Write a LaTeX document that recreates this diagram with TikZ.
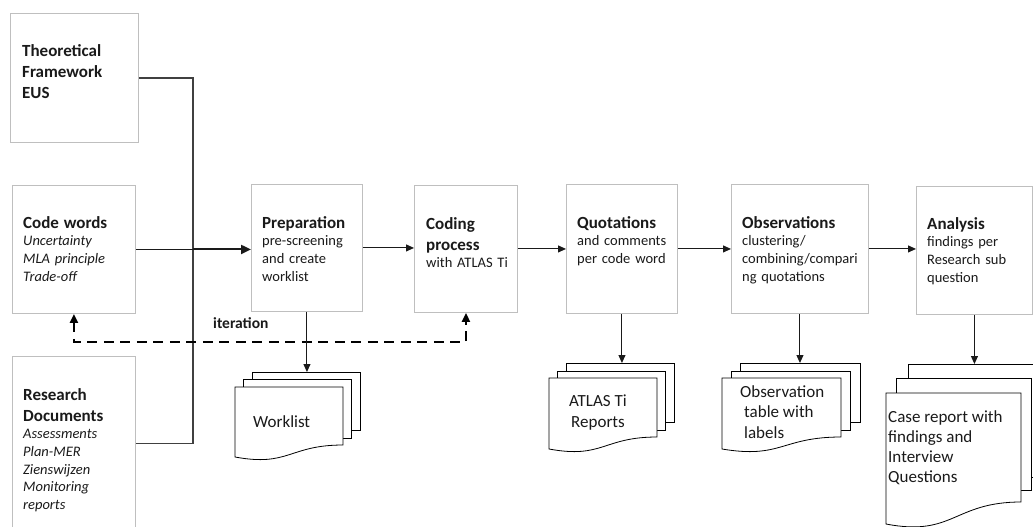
\documentclass[tikz,border=0pt]{standalone}
\usepackage{fontspec}
\setmainfont{Carlito}
\usetikzlibrary{arrows.meta}
\definecolor{boxgray}{HTML}{BFBFBF}
\definecolor{linegray}{HTML}{404040}
\definecolor{ink}{HTML}{1A1A1A}
\newcommand\boxhead[1]{{\bfseries\fontsize{17}{21}\selectfont #1\par}}
\begin{document}
\begin{tikzpicture}[x=1pt,y=-1pt,
  stepbox/.style={draw=boxgray, line width=0.9pt, fill=white, inner sep=0pt, anchor=north west},
  txt/.style={anchor=north west, inner sep=0pt, text width=150pt, align=left, text=ink,
    font=\fontsize{14.5}{17.7}\selectfont},
  doctxt/.style={inner sep=0pt, text=ink, font=\fontsize{17}{20.5}\selectfont},
  flow/.style={draw=ink, line width=1pt, -{Triangle[length=8pt,width=7pt]}},
  mainflow/.style={draw=ink, line width=2pt, -{Triangle[length=10pt,width=9pt]}},
  feed/.style={draw=linegray, line width=1.3pt},
  iter/.style={draw=black, line width=2.4pt, dash pattern=on 10pt off 6.5pt,
    {Triangle[length=9pt,width=8pt]}-{Triangle[length=9pt,width=8pt]}},
  sheet/.style={draw=black, line width=0.8pt, fill=white, inner sep=0pt, anchor=north west},
  docline/.style={draw=black, line width=0.8pt, fill=white},
]
\clip (0,0) rectangle (1033,527);
\fill[white] (0,0) rectangle (1033,527);

% process boxes
\node[stepbox, minimum width=128, minimum height=129] (theo) at (10,13) {};
\node[stepbox, minimum width=123, minimum height=128] (code) at (12,185) {};
\node[stepbox, minimum width=123, minimum height=174] (research) at (12,356) {};
\node[stepbox, minimum width=111, minimum height=127] (prep) at (251,184) {};
\node[stepbox, minimum width=103, minimum height=127] (coding) at (414,185) {};
\node[stepbox, minimum width=111, minimum height=129] (quot) at (566,184) {};
\node[stepbox, minimum width=137, minimum height=129] (obs) at (731,184) {};
\node[stepbox, minimum width=116, minimum height=128] (analysis) at (916,186) {};

% box texts
\node[txt] (theotxt) at (22,44) {\boxhead{Theoretical\\Framework\\EUS}};
\node[txt] (codetxt) at (23,216) {\boxhead{Code words}\itshape Uncertainty\\MLA principle\\Trade-off};
\node[txt] (restxt) at (23,388) {\boxhead{Research\\Documents}\itshape Assessments\\Plan-MER\\Zienswijzen\\Monitoring\\reports};
\node[txt] (preptxt) at (262,216) {\boxhead{Preparation}pre-screening\\and create\\worklist};
\node[txt] (codingtxt) at (426,217) {\boxhead{Coding\\process}with ATLAS Ti};
\node[txt] (quottxt) at (577,216) {\boxhead{Quotations}and comments\\per code word};
\node[txt] (obstxt) at (742,216) {\boxhead{Observations}clustering/\\combining/compari\\ng quotations};
\node[txt] (anatxt) at (927,217) {\boxhead{Analysis}findings per\\Research sub\\question};

% inputs merging into the preparation step
\coordinate (merge) at (193,248);
\draw[feed] (theo.east) -| (merge);
\draw[feed] (research.east) -| (merge);
\draw[draw=ink, line width=1pt] (code.east) -- (code.east -| merge);
\draw[mainflow] (code.east -| merge) -- (code.east -| prep.west);

% main flow
\draw[flow] (prep.east) -- (prep.east -| coding.west);
\draw[flow] (coding.east) -- (coding.east -| quot.west);
\draw[flow] (quot.east) -- (quot.east -| obs.west);
\draw[flow] (obs.east) -- (obs.east -| analysis.west);

% iteration loop
\coordinate (iterlow) at (0,342);
\draw[iter] (code.south) -- (code.south |- iterlow) -| (coding.south);
\node[anchor=base west, inner sep=0pt, text=ink, font=\bfseries\fontsize{15.5}{18}\selectfont] (itertxt) at (213,328) {iteration};

% document stacks: back sheets
\node[sheet, minimum width=108, minimum height=58] (wl3) at (252,372) {};
\node[sheet, minimum width=108, minimum height=59] (wl2) at (243,379) {};
\node[sheet, minimum width=108, minimum height=59] (at3) at (566,363) {};
\node[sheet, minimum width=108, minimum height=59] (at2) at (557,371) {};
\node[sheet, minimum width=120, minimum height=59] (ob3) at (740,363) {};
\node[sheet, minimum width=119, minimum height=59] (ob2) at (731,371) {};
\node[sheet, minimum width=140, minimum height=113] (cr3) at (908,364) {};
\node[sheet, minimum width=135, minimum height=112] (cr2) at (896,378) {};

% document stacks: front sheets with wavy bottom
\draw[docline] (235,387) -- (343,387) -- (343,445) .. controls (289,445) and (289,467) .. (235,457) -- cycle;
\draw[docline] (549,378) -- (657,378) -- (657,437) .. controls (603,437) and (603,459) .. (549,449) -- cycle;
\draw[docline] (722,378) -- (841,378) -- (841,437) .. controls (781.5,437) and (781.5,459) .. (722,449) -- cycle;
\draw[docline] (886,393) -- (1021,393) -- (1021,502) .. controls (953.5,502) and (953.5,537) .. (886,524) -- cycle;

% outputs of each step
\draw[flow] (prep.south) -- (prep.south |- wl3.north);
\draw[flow] (quot.south) -- (quot.south |- at3.north);
\draw[flow] (obs.south) -- (obs.south |- ob3.north);
\draw[flow] (analysis.south) -- (analysis.south |- cr3.north);

% document texts
\node[doctxt, anchor=base west] (wltxt) at (253,427) {Worklist};
\node[doctxt, anchor=north, align=center] (attxt) at (598,395) {ATLAS Ti\\Reports};
\node[doctxt, anchor=north west, align=left] (obtxt) at (740,385) {Observation\\\hspace*{4pt}table with\\\hspace*{4pt}labels};
\node[doctxt, anchor=north west, align=left, font=\fontsize{17}{20}\selectfont] (crtxt) at (888,410) {Case report with\\findings and\\Interview\\Questions};
\end{tikzpicture}
\end{document}
